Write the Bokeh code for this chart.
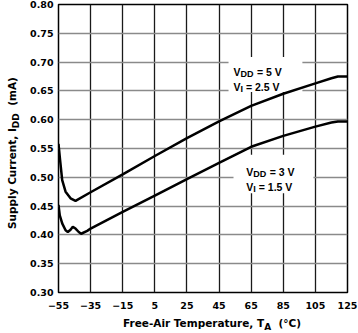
import math
from bokeh.plotting import figure
from bokeh.layouts import row, column
from bokeh.models import FixedTicker, Label, Range1d, Div
from bokeh.embed import file_html
from bokeh.resources import INLINE

# ---- data ----
temp_ticks = [-55, -35, -15, 5, 25, 45, 65, 85, 105, 125]
temp_tick_labels = ["\u221255", "\u221235", "\u221215", "5", "25", "45", "65", "85", "105", "125"]
current_ticks = [0.30, 0.35, 0.40, 0.45, 0.50, 0.55, 0.60, 0.65, 0.70, 0.75, 0.80]
current_tick_labels = ["0.30", "0.35", "0.40", "0.45", "0.50", "0.55", "0.60", "0.65", "0.70", "0.75", "0.80"]

# VDD = 5 V, VI = 2.5 V
temp_5v = [-55, -54, -52.7, -50.6, -47.5, -44.4, -35, -15, 5, 25, 45, 65, 85, 105, 115, 119, 125]
idd_5v = [0.558, 0.530, 0.495, 0.475, 0.4635, 0.459, 0.474, 0.505, 0.537, 0.568, 0.597, 0.624, 0.645, 0.663, 0.672, 0.675, 0.675]

# VDD = 3 V, VI = 1.5 V
temp_3v = [-55, -54.2, -52.7, -50.6, -49.2, -47.5, -46.1, -44.4, -42.4, -40.9, -37.1, -35, -15, 5, 25, 45, 65, 85, 105, 115, 119, 125]
idd_3v = [0.452, 0.434, 0.420, 0.408, 0.405, 0.409, 0.414, 0.411, 0.405, 0.402, 0.407, 0.411, 0.440, 0.468, 0.497, 0.525, 0.553, 0.572, 0.588, 0.595, 0.597, 0.597]

x_title = ("Free-Air Temperature, T", "A", "\u00a0 (\u00b0C)")
y_title = ("Supply Current, I", "DD", "\u00a0 (mA)")

FONT = "DejaVu Sans"
FONT2 = "Liberation Sans"

p = figure(width=334, height=312, x_range=Range1d(-55, 125), y_range=Range1d(0.30, 0.80),
           output_backend="svg", toolbar_location=None,
           min_border_left=34, min_border_right=11, min_border_top=4, min_border_bottom=20)
p.background_fill_color = "white"
p.border_fill_color = "white"
p.outline_line_color = "black"
p.outline_line_width = 1.5

# axes
for ax, ticks, labels in ((p.xaxis[0], temp_ticks, temp_tick_labels), (p.yaxis[0], current_ticks, current_tick_labels)):
    ax.ticker = FixedTicker(ticks=ticks)
    ax.major_label_overrides = {t: l for t, l in zip(ticks, labels)}
    ax.axis_line_color = None
    ax.major_tick_line_color = None
    ax.minor_tick_line_color = None
    ax.major_tick_in = 0
    ax.major_tick_out = 0
    ax.major_label_text_font = FONT
    ax.major_label_text_font_style = "bold"
    ax.major_label_text_font_size = "9.5px"
    ax.major_label_text_color = "black"
p.xaxis.major_label_standoff = 9
p.yaxis.major_label_standoff = 5

# grids
p.xgrid.ticker = FixedTicker(ticks=temp_ticks)
p.xgrid.grid_line_color = "#1a1a1a"
p.xgrid.grid_line_width = 1.3
p.ygrid.ticker = FixedTicker(ticks=current_ticks)
p.ygrid.grid_line_color = "#8a8a8a"
p.ygrid.grid_line_width = 1.5

# white boxes behind the annotations
p.quad(left=[50.9, 54.0], right=[96.9, 103.8], top=[0.709, 0.539], bottom=[0.648, 0.4725],
       fill_color="white", line_color=None)

# curves
p.line(temp_5v, idd_5v, line_color="black", line_width=2.5)
p.line(temp_3v, idd_3v, line_color="black", line_width=2.5)

def lab(x, y, text, size, xo=0, yo=0, font=FONT2):
    p.add_layout(Label(x=x, y=y, text=text, x_offset=xo, y_offset=yo,
                       text_font=font, text_font_style="bold", text_font_size=size,
                       text_color="black", text_align="left", text_baseline="alphabetic"))

def vlabel(x, y, sub, rest):
    lab(x, y, "V", "10.5px")
    lab(x, y, sub, "9px", xo=7.0, yo=-2)
    lab(x, y, rest, "10.5px", xo=(23.4 if sub == "DD" else 12.4))

vlabel(54.0, 0.682, "DD", "= 5 V")
vlabel(54.0, 0.657, "I", "= 2.5 V")
vlabel(62.0, 0.509, "DD", "= 3 V")
vlabel(62.0, 0.483, "I", "= 1.5 V")

# axis titles as HTML text
base = "font-family:'DejaVu Sans';font-weight:bold;font-size:10.5px;line-height:12px;white-space:nowrap;color:black;"
sub_style = "font-size:9px;position:relative;top:3px;"
xdiv = Div(width=358, height=21, margin=0,
           text=(f"<div style=\"{base}position:relative;left:123px;top:3px;\">"
                 f"{x_title[0]}<span style=\"{sub_style}\">{x_title[1]}</span>{x_title[2]}</div>"))
ydiv = Div(width=24, height=312, margin=0,
           text=(f"<div style=\"{base}width:max-content;transform-origin:0 0;"
                 f"transform:translate(6px,227px) rotate(-90deg);\">"
                 f"{y_title[0]}<span style=\"{sub_style}\">{y_title[1]}</span>{y_title[2]}</div>"))

layout = column(row(ydiv, p, spacing=0), xdiv, spacing=0)

open("out.html", "w").write(file_html(layout, INLINE))
